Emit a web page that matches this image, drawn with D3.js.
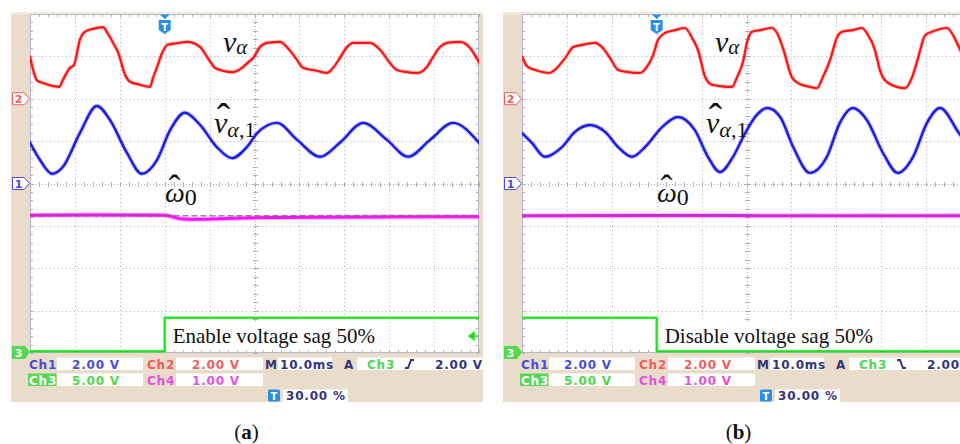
<!DOCTYPE html>
<html>
<head>
<meta charset="utf-8">
<script src="https://cdn.jsdelivr.net/npm/d3@7"></script>
<style>
  body { margin: 0; background: #fff; }
  svg { display: block; }
</style>
</head>
<body>
<div id="chart"></div>
<script>
// readings off the two scope screens
// time in ms (0..100, 10 ms/div), level in screen divisions (-4..4, 0 = centre line)

// (a) enable sag
const redA = [[0,2.99],[0.7,2.68],[1.5,2.44],[2.9,2.37],[5.1,2.30],[6.5,2.28],[7.3,2.44],[8.9,2.73],[9.8,2.80],
  [11.1,3.39],[12.2,3.58],[14.0,3.65],[16.3,3.69],[17.1,3.58],[18.5,3.32],[19.6,3.10],[21.2,2.56],[22.3,2.40],
  [24.5,2.33],[26.7,2.28],[27.4,2.49],[28.3,2.75],[29.6,3.12],[30.7,3.28],[32.7,3.31],[35.0,3.34],[37.9,3.22],
  [39.6,2.96],[41.2,2.73],[42.3,2.68],[45.2,2.63],[47.2,2.73],[48.6,2.86],[49.7,2.96],[51.2,3.22],[52.8,3.32],
  [55.7,3.34],[57.2,3.22],[59.5,2.91],[60.8,2.73],[63.9,2.66],[66.1,2.61],[67.5,2.73],[69.0,2.96],[70.6,3.22],
  [71.9,3.32],[75.7,3.32],[78.0,3.15],[80.2,2.84],[81.7,2.68],[84.0,2.63],[86.2,2.61],[88.4,2.75],[89.8,2.99],
  [91.3,3.22],[92.9,3.32],[95.8,3.34],[98.0,3.20],[100,2.86]];
const blueA = [[0,0.96],[2.2,0.56],[4.9,0.23],[7.3,0.39],[11.1,1.19],[14.9,1.83],[17.8,1.50],[21.6,0.72],
  [24.9,0.23],[28.3,0.56],[31.2,1.26],[34.5,1.67],[37.9,1.38],[41.6,0.86],[45.0,0.60],[48.3,0.86],[50.6,1.19],
  [55.0,1.43],[59.5,1.03],[64.6,0.63],[69.0,0.96],[74.2,1.43],[79.5,1.03],[84.2,0.63],[89.1,1.03],[94.2,1.43],
  [100,0.96]];
const magentaA = [[0,-0.75],[15,-0.745],[30,-0.75],[31.5,-0.78],[34,-0.84],[37,-0.845],[45,-0.82],[55,-0.80],
  [75,-0.79],[100,-0.785]];
const greenA = [[0,-3.96],[30,-3.96],[30,-3.17],[100,-3.17]];

// (b) disable sag
const redB = [[0,2.99],[1.3,2.75],[2.9,2.68],[6.2,2.61],[7.3,2.68],[9.6,2.96],[11.4,3.22],[13.4,3.27],[16.3,3.32],
  [17.8,3.22],[19.6,2.96],[21.4,2.68],[23.6,2.63],[26.3,2.61],[27.8,2.75],[29.2,3.03],[30.3,3.39],[31.8,3.55],
  [34.1,3.62],[36.3,3.67],[37.9,3.43],[39.2,3.15],[40.8,2.51],[42.3,2.33],[44.1,2.30],[46.8,2.28],[47.9,2.51],
  [49.2,2.86],[50.1,3.32],[51.2,3.58],[53.0,3.62],[55.7,3.67],[56.8,3.55],[58.1,3.20],[60.1,2.51],[61.5,2.37],
  [64.1,2.28],[65.7,2.25],[67.0,2.51],[68.6,2.91],[70.2,3.46],[71.3,3.58],[73.7,3.62],[75.7,3.67],[76.8,3.55],
  [78.6,3.15],[79.7,2.68],[80.8,2.44],[83.5,2.28],[85.3,2.25],[86.9,2.51],[88.2,2.96],[89.8,3.50],[91.3,3.58],
  [94.7,3.67],[96.0,3.50],[97.3,3.22],[98.7,2.91],[100,2.63]];
const blueB = [[0,1.19],[2.2,0.96],[5.1,0.63],[8.9,0.86],[11.8,1.22],[15.1,1.38],[18.5,1.22],[21.4,0.86],
  [24.5,0.63],[27.4,0.86],[31.2,1.33],[34.7,1.57],[38.5,1.26],[41.4,0.63],[44.1,0.27],[47.0,0.63],[49.7,1.19],
  [52.3,1.62],[54.6,1.78],[57.5,1.57],[60.4,0.86],[64.1,0.25],[67.9,0.63],[70.8,1.43],[73.7,1.78],[76.8,1.50],
  [80.4,0.72],[83.7,0.25],[87.1,0.63],[90.2,1.43],[93.1,1.78],[97.3,1.19],[100,0.79]];
const magentaB = [[0,-0.76],[30,-0.755],[60,-0.76],[100,-0.76]];
const greenB = [[0,-3.17],[30,-3.17],[30,-3.96],[100,-3.96]];

// scope settings
const chNames = ["Ch1", "Ch2", "Ch3", "Ch4"];
const chScales = ["2.00 V", "2.00 V", "5.00 V", "1.00 V"];
const chVoltsPerDiv = [2, 2, 5, 1];
const chGround = [0, 2, -4, -0.76];      // divisions
const timeBase = "10.0ms";
const trigSource = "Ch3";
const trigLevel = 2.0;                   // volts on ch3
const trigLevelText = "2.00 V";
const trigPos = 30;                      // percent of record
const trigPosText = "30.00 %";
const trigSlopes = ["rise", "fall"];
const eventLabels = ["Enable voltage sag 50%", "Disable voltage sag 50%"];
const captions = ["a", "b"];

const chColor = ["#1c1ce4", "#ff1414", "#1fdf1f", "#ff10ff"];
const chText = ["#4b4bdc", "#f25c5c", "#4ed84e", "#e350e3"];
const navy = "#34347c";
const beige = "#eadccb";
const mathFont = "'Liberation Serif', 'DejaVu Serif', serif";
const scopeFont = "'DejaVu Sans', sans-serif";

const svg = d3.select("#chart").append("svg")
  .attr("width", 960)
  .attr("height", 444);

const panels = [
  { dx: 0,   red: redA, blue: blueA, magenta: magentaA, green: greenA },
  { dx: 492, red: redB, blue: blueB, magenta: magentaB, green: greenB }
];

panels.forEach((p, i) => drawPanel(p, i));

function drawPanel(p, i) {
  const g = svg.append("g").attr("transform", `translate(${p.dx},0)`);

  /* screen scales */
  const x = d3.scaleLinear().domain([0, 100]).range([30, 479]);
  const y = d3.scaleLinear().domain([-4, 4]).range([353, 14]);
  const [x0, x1] = x.range();
  const [y1, y0] = y.range();

  /* frame + screen */
  g.append("rect").attr("x", 11).attr("y", 12).attr("width", 472).attr("height", 390).attr("fill", beige);
  g.append("rect").attr("x", 11).attr("y", 12).attr("width", 472).attr("height", 2.5).attr("fill", "#f3ecdc");
  g.append("rect").attr("x", x0).attr("y", y0).attr("width", x1 - x0).attr("height", y1 - y0).attr("fill", "#fff");

  /* dotted graticule */
  const grid = g.append("g").attr("stroke", "#adadbe").attr("stroke-width", 1).attr("fill", "none");
  x.ticks(10).filter(t => t > 0 && t < 100 && t !== 50).forEach(t => {
    const px = Math.round(x(t)) + 0.5;
    grid.append("line").attr("x1", px).attr("x2", px).attr("y1", y0).attr("y2", y1)
      .attr("stroke-dasharray", "1,3");
  });
  y.ticks(8).filter(t => t > -4 && t < 4 && t !== 0).forEach(t => {
    const py = Math.round(y(t)) + 0.5;
    grid.append("line").attr("x1", x0).attr("x2", x1).attr("y1", py).attr("y2", py)
      .attr("stroke-dasharray", "1,3");
  });

  /* centre cross with minor ticks */
  const cx = Math.round(x(50)) + 0.5, cy = Math.round(y(0)) + 0.5;
  grid.append("line").attr("x1", cx).attr("x2", cx).attr("y1", y0).attr("y2", y1).attr("stroke-dasharray", "1,2");
  grid.append("line").attr("x1", x0).attr("x2", x1).attr("y1", cy).attr("y2", cy).attr("stroke-dasharray", "1,2");
  const minorX = d3.range(0, 100.01, 2);
  const minorY = d3.range(-4, 4.01, 0.2);
  minorX.forEach(t => {
    const px = Math.round(x(t)) + 0.5;
    grid.append("line").attr("x1", px).attr("x2", px).attr("y1", cy - 2.5).attr("y2", cy + 2.5);
    grid.append("line").attr("x1", px).attr("x2", px).attr("y1", y0).attr("y2", y0 + 3);
    grid.append("line").attr("x1", px).attr("x2", px).attr("y1", y1 - 3).attr("y2", y1);
  });
  minorY.forEach(t => {
    const py = Math.round(y(t)) + 0.5;
    grid.append("line").attr("x1", cx - 2.5).attr("x2", cx + 2.5).attr("y1", py).attr("y2", py);
    grid.append("line").attr("x1", x0).attr("x2", x0 + 3).attr("y1", py).attr("y2", py);
    grid.append("line").attr("x1", x1 - 3).attr("x2", x1).attr("y1", py).attr("y2", py);
  });
  g.append("rect").attr("x", x0 + 0.5).attr("y", y0 + 0.5).attr("width", x1 - x0 - 1).attr("height", y1 - y0 - 1)
    .attr("fill", "none").attr("stroke", "#b8b8c6");

  /* traces */
  const clipId = "screen" + i;
  g.append("clipPath").attr("id", clipId)
    .append("rect").attr("x", x0).attr("y", y0).attr("width", x1 - x0).attr("height", y1 - y0);
  const traces = g.append("g").attr("clip-path", `url(#${clipId})`).attr("fill", "none")
    .attr("stroke-linejoin", "round").attr("stroke-linecap", "round");

  const smooth = d3.line().x(d => x(d[0])).y(d => y(d[1])).curve(d3.curveMonotoneX);
  const step = d3.line().x(d => x(d[0])).y(d => y(d[1]));

  function trace(data, gen, color, core, halo) {
    traces.append("path").attr("d", gen(data)).attr("stroke", color).attr("stroke-width", halo).attr("opacity", 0.25);
    traces.append("path").attr("d", gen(data)).attr("stroke", color).attr("stroke-width", core);
  }

  /* event box behind label */
  const xt = x(trigPos);
  traces.append("rect").attr("x", xt + 1.5).attr("y", 321).attr("width", 220).attr("height", 29.5).attr("fill", "#fff");

  trace(p.green, step, chColor[2], 2, 3.6);
  trace(p.magenta, smooth, chColor[3], 3, 5.5);
  traces.append("line").attr("x1", x0).attr("x2", x1)
    .attr("y1", y(chGround[3])).attr("y2", y(chGround[3]))
    .attr("stroke", "#6a6a6a").attr("stroke-width", 1.4).attr("stroke-dasharray", "5,4").attr("opacity", 0.75);
  trace(p.blue, smooth, chColor[0], 2.4, 4.4);
  trace(p.red, smooth, chColor[1], 2.2, 4);

  g.append("text")
    .attr("x", xt + 8).attr("y", 343)
    .style("font-family", mathFont).style("font-size", "21px").attr("fill", "#111")
    .text(eventLabels[i]);

  /* trigger level arrow (right edge) */
  const ty = y(chGround[2] + trigLevel / chVoltsPerDiv[2]);
  const ax = i === 0 ? x1 : 438;   // (b) is cropped on the right, its arrow sits at the picture edge
  g.append("path")
    .attr("d", `M${ax - 10},${ty} L${ax - 5},${ty - 3.5} L${ax - 5},${ty + 3.5} Z M${ax - 6},${ty} H${ax - 1}`)
    .attr("fill", chColor[2]).attr("stroke", chColor[2]).attr("stroke-width", 1.5)
    .attr("display", i === 0 ? null : "none");

  /* trigger position marker (top) */
  g.append("path").attr("d", `M${xt - 5},14.5 H${xt + 5} L${xt},19 Z`).attr("fill", "#2a8de6");
  g.append("path").attr("d", `M${xt - 6},20 H${xt + 6} V30 L${xt},34 L${xt - 6},30 Z`).attr("fill", "#2a8de6");
  g.append("text").attr("x", xt).attr("y", 30.5).attr("text-anchor", "middle")
    .style("font-family", scopeFont).style("font-size", "10px").style("font-weight", "bold")
    .attr("fill", "#fff").text("T");

  /* channel ground markers */
  [1, 0].forEach(c => {
    const my = y(chGround[c]);
    g.append("path")
      .attr("d", `M12.5,${my - 6} H24 L29.5,${my} L24,${my + 6} H12.5 Z`)
      .attr("fill", "#fff").attr("stroke", chText[c]).attr("stroke-width", 1);
    g.append("text").attr("x", 18.5).attr("y", my + 4).attr("text-anchor", "middle")
      .style("font-family", scopeFont).style("font-size", "11px").style("font-weight", "bold")
      .attr("fill", chText[c]).text(chNames[c].slice(2));
  });
  const gy = y(chGround[2]);
  g.append("path")
    .attr("d", `M12,${gy - 7} H25 L30,${gy - 1} L25,${gy + 6} H12 Z`)
    .attr("fill", "#52d852");
  g.append("text").attr("x", 18.5).attr("y", gy + 4).attr("text-anchor", "middle")
    .style("font-family", scopeFont).style("font-size", "11px").style("font-weight", "bold")
    .attr("fill", "#fff").text(chNames[2].slice(2));

  /* math annotations */
  const math = g.append("g").style("font-family", mathFont).attr("fill", "#111");
  const va = math.append("text").attr("x", 223).attr("y", 52);
  va.append("tspan").style("font-style", "italic").style("font-size", "30px").text("v");
  va.append("tspan").style("font-style", "italic").style("font-size", "21px").attr("dy", 2).text("α");

  math.append("text").attr("x", 223.5).attr("y", 131).attr("text-anchor", "middle")
    .style("font-size", "40px").text("ˆ");
  const vh = math.append("text").attr("x", 214).attr("y", 133);
  vh.append("tspan").style("font-style", "italic").style("font-size", "30px").text("v");
  vh.append("tspan").style("font-style", "italic").style("font-size", "22px").attr("dy", 4).text("α");
  vh.append("tspan").style("font-size", "22px").text(",1");

  math.append("text").attr("x", 174.5).attr("y", 200).attr("text-anchor", "middle")
    .style("font-size", "36px").text("ˆ");
  const om = math.append("text").attr("x", 165).attr("y", 202);
  om.append("tspan").style("font-style", "italic").style("font-size", "28px").text("ω");
  om.append("tspan").style("font-size", "24px").attr("dy", 3).text("0");

  /* settings read-out */
  const info = g.append("g").style("font-family", scopeFont).style("font-size", "12px")
    .style("font-weight", "bold").style("letter-spacing", "0.8px");
  const box = (bx, by, w) => info.append("rect").attr("x", bx).attr("y", by).attr("width", w).attr("height", 12.5).attr("fill", "#fff");
  const txt = (tx, ty, s, color) => info.append("text").attr("x", tx).attr("y", ty).attr("fill", color).text(s);

  // row 1
  box(57, 357.5, 86); box(176, 357.5, 87); box(278, 357.5, 54); box(357, 357.5, 126);
  txt(29, 368.5, chNames[0], chText[0]); txt(72, 368.5, chScales[0], chText[0]);
  txt(147, 368.5, chNames[1], chText[1]); txt(192, 368.5, chScales[1], chText[1]);
  txt(265, 368.5, "M", navy); txt(280, 368.5, timeBase, navy);
  txt(344, 368.5, "A", navy); txt(367, 368.5, trigSource, chText[2]);
  txt(435, 368.5, trigLevelText, navy);
  const ex = 405, ey = 364;
  info.append("path")
    .attr("d", trigSlopes[i] === "rise"
      ? `M${ex},${ey + 4} H${ex + 3} L${ex + 6},${ey - 4} H${ex + 9}`
      : `M${ex},${ey - 4} H${ex + 3} L${ex + 6},${ey + 4} H${ex + 9}`)
    .attr("fill", "none").attr("stroke", navy).attr("stroke-width", 2);

  // row 2
  info.append("rect").attr("x", 28).attr("y", 373.5).attr("width", 28.5).attr("height", 12.5).attr("fill", "#55d855");
  box(57, 373.5, 86); box(176, 373.5, 87);
  txt(29, 384.5, chNames[2], "#fff"); txt(72, 384.5, chScales[2], chText[2]);
  txt(147, 384.5, chNames[3], chText[3]); txt(192, 384.5, chScales[3], chText[3]);

  // row 3
  info.append("rect").attr("x", 268).attr("y", 389.5).attr("width", 12).attr("height", 12).attr("rx", 1.5).attr("fill", "#2a8de6");
  info.append("text").attr("x", 274).attr("y", 399.5).attr("text-anchor", "middle")
    .style("font-size", "10px").style("letter-spacing", "0").attr("fill", "#fff").text("T");
  box(283, 389.5, 65);
  txt(286, 400, trigPosText, navy);

  /* caption */
  const cap = g.append("text").attr("x", 246.5).attr("y", 439).attr("text-anchor", "middle")
    .style("font-family", mathFont).style("font-size", "21px").attr("fill", "#111");
  cap.append("tspan").text("(");
  cap.append("tspan").style("font-weight", "bold").text(captions[i]);
  cap.append("tspan").text(")");
}
</script>
</body>
</html>
